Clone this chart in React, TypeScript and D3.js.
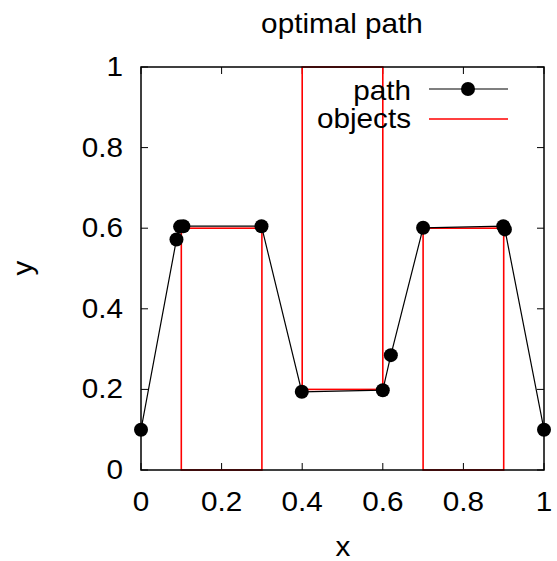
import * as d3 from "d3";

// path found by the optimiser
const pathX = [0, 0.088, 0.097, 0.105, 0.299, 0.399, 0.6, 0.62, 0.7, 0.899, 0.903, 1];
const pathY = [0.1, 0.572, 0.604, 0.605, 0.605, 0.194, 0.198, 0.285, 0.601, 0.605, 0.597, 0.1];

// obstacle rectangles
const objX0 = [0.1, 0.4, 0.7];
const objX1 = [0.3, 0.6, 0.9];
const objY0 = [0, 0.2, 0];
const objY1 = [0.6, 1, 0.6];

const xTicks = [0, 0.2, 0.4, 0.6, 0.8, 1];
const yTicks = [0, 0.2, 0.4, 0.6, 0.8, 1];

const W = 557, H = 561;
const left = 141, right = 544, top = 67, bottom = 470;
const FS = 27;
const font = "'Liberation Sans', Arial, sans-serif";

function T(props: { x: number; y: number; anchor?: string; rot?: number; children: any }) {
  const rot = props.rot ? ` rotate(${props.rot})` : "";
  return (
    <text
      transform={`translate(${props.x},${props.y})${rot} scale(1.1,1)`}
      textAnchor={props.anchor || "middle"}
      fontSize={FS}
      fontFamily={font}
      fill="#000"
    >
      {props.children}
    </text>
  );
}

export default function App() {
  const x = d3.scaleLinear().domain([0, 1]).range([left, right]);
  const y = d3.scaleLinear().domain([0, 1]).range([bottom, top]);
  const pts = pathX.map((d, i) => [x(d), y(pathY[i])] as [number, number]);
  const line = d3.line()(pts) || "";
  const tl = 7;

  return (
    <svg width={W} height={H} style={{ position: "absolute", left: 0, top: 0 }}>
      <rect width={W} height={H} fill="#fff" />
      {/* ticks, mirrored inside */}
      {xTicks.map(t => (
        <g key={"xt" + t} stroke="#000" strokeWidth={1}>
          <line x1={x(t)} x2={x(t)} y1={bottom} y2={bottom - tl} />
          <line x1={x(t)} x2={x(t)} y1={top} y2={top + tl} />
        </g>
      ))}
      {yTicks.map(t => (
        <g key={"yt" + t} stroke="#000" strokeWidth={1}>
          <line x1={left} x2={left + tl} y1={y(t)} y2={y(t)} />
          <line x1={right} x2={right - tl} y1={y(t)} y2={y(t)} />
        </g>
      ))}
      {/* objects */}
      {objX0.map((d, i) => (
        <rect
          key={"o" + i}
          x={x(d)}
          y={y(objY1[i])}
          width={x(objX1[i]) - x(d)}
          height={y(objY0[i]) - y(objY1[i])}
          fill="none"
          stroke="#ff0000"
          strokeWidth={1.6}
        />
      ))}
      {/* path */}
      <path d={line} fill="none" stroke="#000" strokeWidth={1.2} />
      {pts.map((p, i) => (
        <circle key={"p" + i} cx={p[0]} cy={p[1]} r={7} fill="#000" />
      ))}
      {/* border */}
      <rect x={left} y={top} width={right - left} height={bottom - top} fill="none" stroke="#000" strokeWidth={1.5} />
      {/* tick labels */}
      {xTicks.map(t => (
        <T key={"xl" + t} x={x(t)} y={bottom + 41}>{d3.format("~g")(t)}</T>
      ))}
      {yTicks.map(t => (
        <T key={"yl" + t} x={123} y={y(t) + 9} anchor="end">{d3.format("~g")(t)}</T>
      ))}
      <T x={342} y={33}>optimal path</T>
      <T x={343} y={556}>x</T>
      <T x={32} y={268} rot={-90}>y</T>
      {/* legend */}
      <T x={411} y={100} anchor="end">path</T>
      <line x1={429} x2={508} y1={89} y2={89} stroke="#000" strokeWidth={1.2} />
      <circle cx={468} cy={89} r={7} fill="#000" />
      <T x={411} y={128} anchor="end">objects</T>
      <line x1={429} x2={508} y1={119} y2={119} stroke="#ff0000" strokeWidth={1.6} />
    </svg>
  );
}
